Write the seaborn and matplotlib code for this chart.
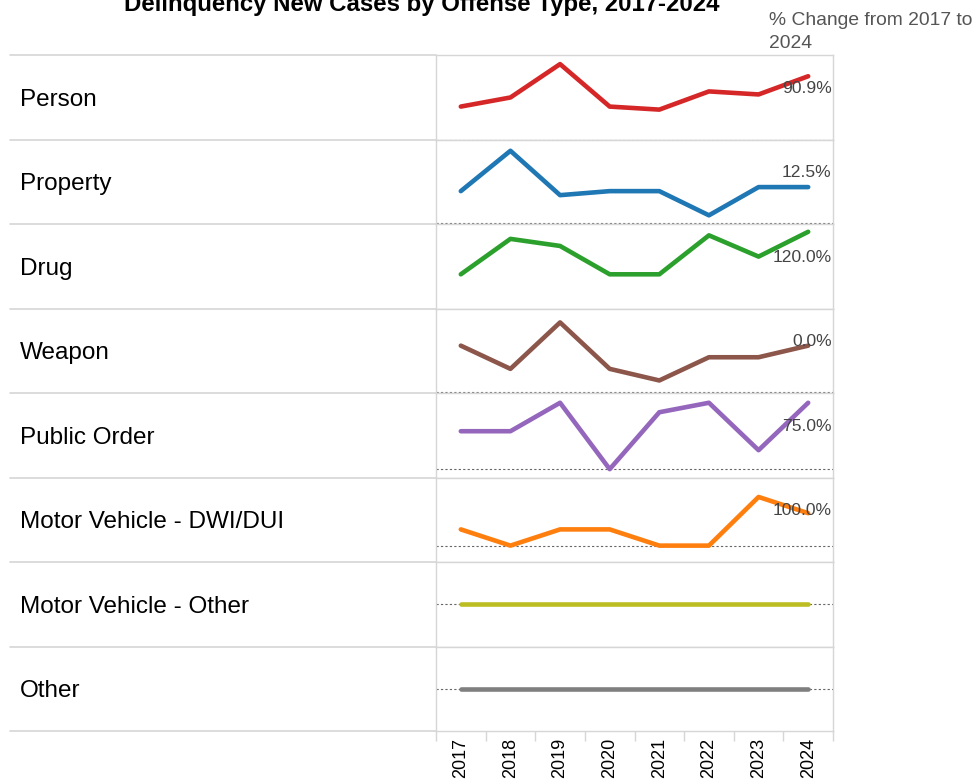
import numpy as np
import pandas as pd
import matplotlib.pyplot as plt
import seaborn as sns
from matplotlib.lines import Line2D

# data
years = [2017, 2018, 2019, 2020, 2021, 2022, 2023, 2024]
offenses = ["Person", "Property", "Drug", "Weapon", "Public Order",
            "Motor Vehicle - DWI/DUI", "Motor Vehicle - Other", "Other"]
person = [11, 14, 25, 11, 10, 16, 15, 21]
property_cases = [8, 18, 7, 8, 8, 2, 9, 9]
drug = [10, 20, 18, 10, 10, 21, 15, 22]
weapon = [4, 2, 6, 2, 1, 3, 3, 4]
public_order = [4, 4, 7, 0, 6, 7, 2, 7]
mv_dwi = [1, 0, 1, 1, 0, 0, 3, 2]
mv_other = [0, 0, 0, 0, 0, 0, 0, 0]
other = [0, 0, 0, 0, 0, 0, 0, 0]

series = [person, property_cases, drug, weapon, public_order, mv_dwi, mv_other, other]
colors = sns.color_palette("tab10")
palette = [colors[3], colors[0], colors[2], colors[5], colors[4], colors[1], colors[8], colors[7]]

# per-panel value ranges (independent axes, like the original)
ylims = [(0.15, 28), (-0.15, 20.8), (0.35, 24.2), (-0.08, 7.2),
         (-0.88, 8.03), (-1.01, 4.2), (-1, 1), (-1, 1)]

df = pd.DataFrame({
    "offense": np.repeat(offenses, len(years)),
    "year": years * len(offenses),
    "cases": np.concatenate(series),
})

sns.set_theme(style="white")
plt.rcParams["font.family"] = ["Liberation Sans", "DejaVu Sans"]

W, H = 979, 779
fig, axes = plt.subplots(len(offenses), 1, figsize=(W / 100, H / 100), dpi=100, sharex=True)
top_px, bot_px = 55, 731
left_px, right_px = 436, 833
fig.subplots_adjust(left=left_px / W, right=right_px / W,
                    top=1 - top_px / H, bottom=1 - bot_px / H, hspace=0)

grid_col = "#d6d6d6"
for i, (ax, name) in enumerate(zip(axes, offenses)):
    sub = df[df["offense"] == name]
    sns.lineplot(data=sub, x="year", y="cases", ax=ax, color=palette[i],
                 lw=3.3, solid_capstyle="round", zorder=3)
    ax.axhline(0, color="#666666", ls=(0, (2, 2)), lw=0.8, zorder=2)
    ax.set_ylim(*ylims[i])
    ax.set_xlim(years[0] - 0.5, years[-1] + 0.5)
    ax.set_xlabel("")
    ax.set_ylabel("")
    ax.set_yticks([])
    for s in ax.spines.values():
        s.set_color(grid_col)
        s.set_linewidth(1.0)

    vals = sub["cases"].to_numpy()
    if vals[0] != 0:
        pct = (vals[-1] - vals[0]) / vals[0] * 100
        ax.annotate(f"{pct:.1f}%", xy=(1, 0.607), xycoords="axes fraction",
                    xytext=(-1, 0), textcoords="offset points",
                    ha="right", va="center", fontsize=12.6, color="#444444")

    # row label on the left
    y0, y1 = ax.get_position().y0, ax.get_position().y1
    fig.text(20 / W, (y0 + y1) / 2 - 2.5 / H, name, ha="left", va="center",
             fontsize=17.5, color="#000000")

# row dividers in the label column
edges = [axes[0].get_position().y1] + [ax.get_position().y0 for ax in axes]
for e in edges:
    fig.add_artist(Line2D([10 / W, left_px / W], [e, e], color=grid_col, lw=1.2))

bottom = axes[-1]
bottom.set_xticks(years)
bottom.set_xticklabels([str(y) for y in years], rotation=90, fontsize=13)
bottom.set_xticks([y - 0.5 for y in years] + [years[-1] + 0.5], minor=True)
bottom.tick_params(axis="x", which="major", length=0, pad=5, colors="#000000")
bottom.tick_params(axis="x", which="minor", length=7, width=1, color=grid_col, bottom=True)
for ax in axes[:-1]:
    ax.tick_params(axis="x", which="both", length=0, labelbottom=False)

fig.text(422 / W, 1 - 11 / H, "Delinquency New Cases by Offense Type, 2017-2024",
         ha="center", va="baseline", fontsize=17.3, fontweight="bold", color="#000000")
fig.text(769 / W, 1 - 12 / H, "% Change from 2017 to\n2024", ha="left", va="top",
         fontsize=13.9, color="#555555", linespacing=1.45)

fig.savefig("out.png", dpi=100)
